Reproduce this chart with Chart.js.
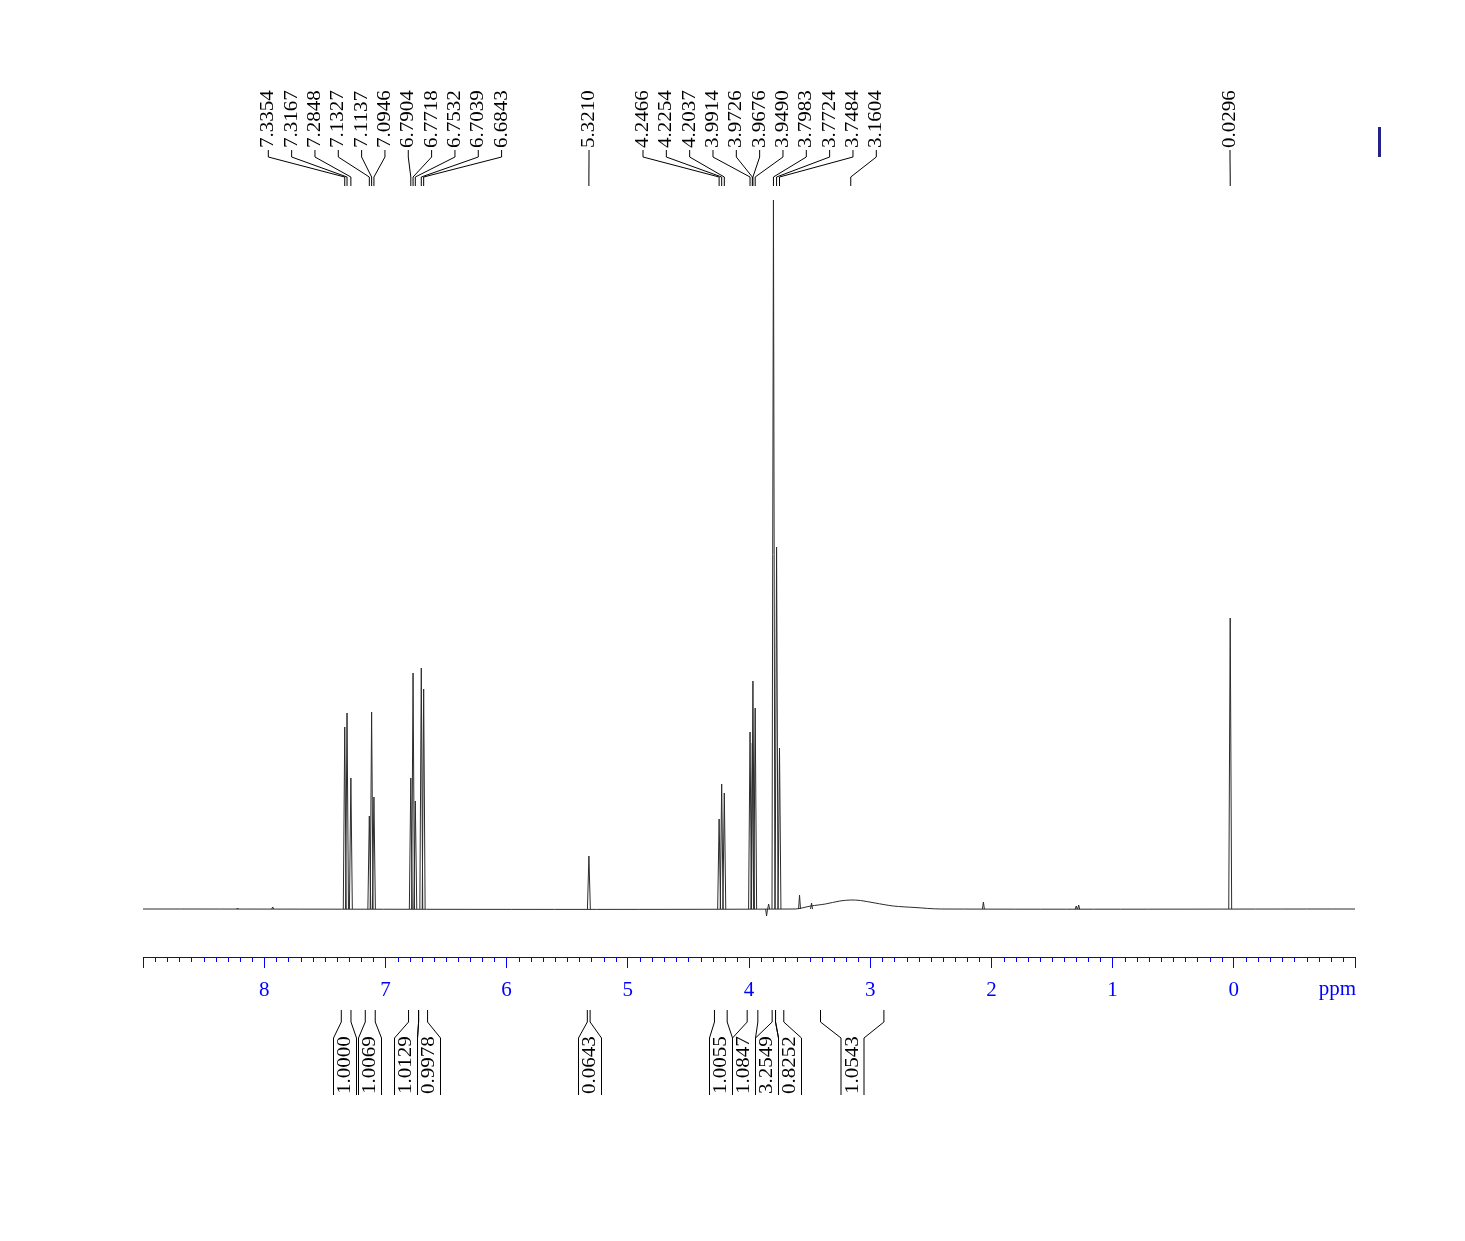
<!DOCTYPE html>
<html lang="es">
<head>
<meta charset="utf-8">
<title>Espectro 1H RMN</title>
<script src="https://cdn.jsdelivr.net/npm/chart.js@4.4.1/dist/chart.umd.min.js"></script>
<style>
    html, body { margin: 0; padding: 0; background: #fff; }
    canvas { display: block; }
</style>
</head>
<body>
<canvas id="espectro" width="1465" height="1241"></canvas>
<script>
// Picos etiquetados (ppm) y altura
const desplazamientos = [7.3354, 7.3167, 7.2848, 7.1327, 7.1137, 7.0946, 6.7904, 6.7718, 6.7532, 6.7039, 6.6843,
    5.3210,
    4.2466, 4.2254, 4.2037, 3.9914, 3.9726, 3.9676, 3.9490, 3.7983, 3.7724, 3.7484, 3.1604,
    0.0296];
const intensidades = [182, 196, 131, 93, 197, 112, 131, 236, 108, 241, 220,
    53,
    90, 125, 116, 177, 166, 228, 201, 709, 362, 161, null,
    291];

// Picos pequenos sin etiqueta
const menoresPpm = [8.22, 7.93, 3.855, 3.838, 3.583, 3.484, 2.066, 1.30, 1.28];
const menoresInt = [1, 2, -7, 5, 14, 6, 7, 3, 4];

// Joroba ancha alrededor de 3.16 ppm
const jorobaPpm = [3.62, 3.49, 3.37, 3.25, 3.16, 3.08, 2.96, 2.81, 2.63, 2.42];
const jorobaInt = [0, 3, 5, 8, 9, 8.5, 6, 3, 1.5, 0];

// Integrales
const integrales = ["1.0000", "1.0069", "1.0129", "0.9978", "0.0643", "1.0055", "1.0847", "3.2549", "0.8252", "1.0543"];
const integralDesde = [7.364, 7.166, 6.809, 6.726, 5.334, 4.285, 4.015, 3.809, 3.781, 3.410];
const integralHasta = [7.284, 7.084, 6.726, 6.652, 5.311, 4.180, 3.927, 3.781, 3.713, 2.887];

// Etiquetas del eje
const marcasEje = [8, 7, 6, 5, 4, 3, 2, 1, 0];

// Posiciones de las etiquetas (px)
const gruposEtiquetas = [{ inicio: 268.3, n: 11 }, { inicio: 589, n: 1 }, { inicio: 643, n: 11 }, { inicio: 1230, n: 1 }];
const pasoEtiqueta = 23.33;
const xEtiquetasIntegrales = [345, 370, 406, 429, 590, 721, 744, 767, 790, 852.5];

const AZUL = "#0000ff";
const FUENTE = '"Liberation Serif", "Times New Roman", serif';

function puntosPicos(ppm, alturas, ancho) {
    const pts = [];
    ppm.forEach((p, i) => {
        const h = alturas[i];
        if (h === null) return;
        pts.push({ x: p + ancho, y: 0 }, { x: p, y: h }, { x: p - ancho, y: 0 }, { x: p - ancho, y: null });
    });
    return pts;
}

function lineaBase() {
    const pts = [{ x: 9, y: 0 }];
    jorobaPpm.forEach((p, i) => pts.push({ x: p, y: jorobaInt[i] }));
    pts.push({ x: -1, y: 0 });
    return pts;
}

function textoVertical(ctx, texto, x, yInicio) {
    ctx.save();
    ctx.translate(x, yInicio);
    ctx.rotate(-Math.PI / 2);
    ctx.scale(1, 0.92);
    ctx.textAlign = "left";
    ctx.textBaseline = "middle";
    ctx.fillText(texto, 0, 0);
    ctx.restore();
}

function linea(ctx, puntos) {
    ctx.beginPath();
    ctx.moveTo(puntos[0][0], puntos[0][1]);
    for (let i = 1; i < puntos.length; i++) ctx.lineTo(puntos[i][0], puntos[i][1]);
    ctx.stroke();
}

// Anotaciones: marcas menores, etiquetas de picos, integrales
const anotaciones = {
    id: "anotaciones",
    afterDraw(chart) {
        const ctx = chart.ctx;
        const xs = chart.scales.x;
        const abajo = chart.chartArea.bottom;

        // marcas menores cada 0.1 ppm
        ctx.save();
        ctx.strokeStyle = AZUL;
        ctx.lineWidth = 1;
        for (let k = -10; k <= 90; k++) {
            if (k % 10 === 0) continue;
            const px = Math.round(xs.getPixelForValue(k / 10)) + 0.5;
            linea(ctx, [[px, abajo], [px, abajo + 5]]);
        }
        ctx.fillStyle = AZUL;
        ctx.font = "21px " + FUENTE;
        ctx.textAlign = "right";
        ctx.textBaseline = "top";
        ctx.fillText("ppm", 1356, abajo + 22);
        ctx.restore();

        // etiquetas de picos
        ctx.save();
        ctx.strokeStyle = "#000";
        ctx.fillStyle = "#000";
        ctx.lineWidth = 1;
        ctx.font = "21px " + FUENTE;
        let idx = 0;
        gruposEtiquetas.forEach(g => {
            for (let j = 0; j < g.n; j++) {
                const xl = g.inicio + j * pasoEtiqueta;
                const xp = xs.getPixelForValue(desplazamientos[idx]);
                textoVertical(ctx, desplazamientos[idx].toFixed(4), xl, 148);
                linea(ctx, [[xl, 150], [xl, 157], [xp, 177], [xp, 186]]);
                idx++;
            }
        });

        // integrales
        integrales.forEach((txt, i) => {
            const x1 = xs.getPixelForValue(integralDesde[i]);
            const x2 = xs.getPixelForValue(integralHasta[i]);
            const c = xEtiquetasIntegrales[i];
            linea(ctx, [[x1, 1010], [x1, 1022], [c - 11.5, 1038], [c - 11.5, 1095]]);
            linea(ctx, [[x2, 1010], [x2, 1022], [c + 11.5, 1038], [c + 11.5, 1095]]);
            textoVertical(ctx, txt, c, 1094);
        });

        // barra azul de la esquina
        ctx.fillStyle = "#22228a";
        ctx.fillRect(1378, 127, 3, 30);
        ctx.restore();
    }
};

Chart.defaults.font.family = FUENTE;

new Chart(document.getElementById("espectro"), {
    type: "line",
    data: {
        datasets: [
            {
                label: "base",
                data: lineaBase(),
                borderColor: "#2b2b2b",
                borderWidth: 1,
                pointRadius: 0,
                tension: 0.3
            },
            {
                label: "picos",
                data: puntosPicos(desplazamientos, intensidades, 0.012),
                borderColor: "#2b2b2b",
                borderWidth: 1,
                pointRadius: 0,
                spanGaps: false
            },
            {
                label: "menores",
                data: puntosPicos(menoresPpm, menoresInt, 0.008),
                borderColor: "#2b2b2b",
                borderWidth: 1,
                pointRadius: 0,
                spanGaps: false
            }
        ]
    },
    options: {
        responsive: false,
        animation: false,
        layout: { padding: { left: 143, right: 110, top: 185, bottom: 224 } },
        plugins: {
            legend: { display: false },
            tooltip: { enabled: false }
        },
        scales: {
            x: {
                type: "linear",
                reverse: true,
                min: -1,
                max: 9,
                afterFit: (s) => { s.height = 60; },
                border: { display: true, color: AZUL, width: 1 },
                grid: { drawOnChartArea: false, drawTicks: true, tickLength: 11, color: AZUL, tickColor: AZUL },
                ticks: {
                    stepSize: 1,
                    autoSkip: false,
                    maxRotation: 0,
                    padding: 10,
                    color: AZUL,
                    font: { size: 21 },
                    callback: v => marcasEje.includes(v) ? String(v) : ""
                }
            },
            y: { display: false, min: -48, max: 724 }
        }
    },
    plugins: [anotaciones]
});
</script>
</body>
</html>
